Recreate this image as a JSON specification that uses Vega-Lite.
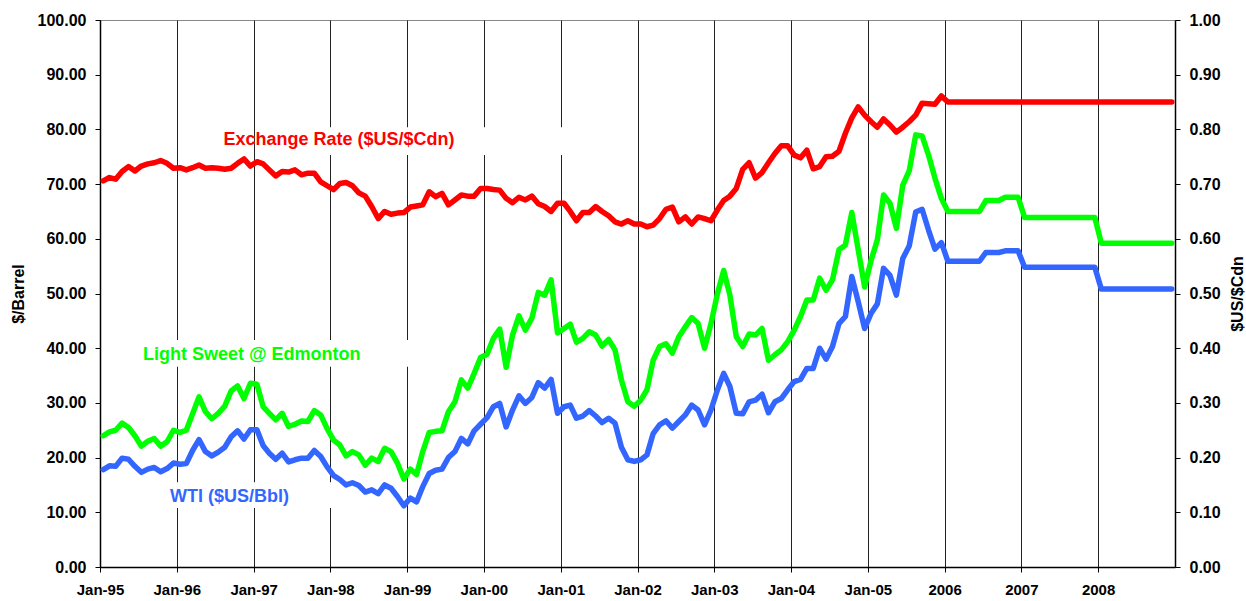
{
  "$schema": "https://vega.github.io/schema/vega-lite/v6.json",
  "width": 1075,
  "height": 547,
  "autosize": {"type": "none"},
  "padding": {"left": 100, "top": 20, "right": 71, "bottom": 34},
  "background": "white",
  "config": {
    "font": "Liberation Sans",
    "view": {"stroke": "#888888", "strokeWidth": 1},
    "axis": {"labelFont": "Liberation Sans", "titleFont": "Liberation Sans"}
  },
  "data": {
    "values": [
      {"m": "1995-01", "w": 17.8, "e": 24.0, "x": 0.706},
      {"m": "1995-02", "w": 18.5, "e": 24.7, "x": 0.712},
      {"m": "1995-03", "w": 18.4, "e": 25.0, "x": 0.709},
      {"m": "1995-04", "w": 19.9, "e": 26.3, "x": 0.723},
      {"m": "1995-05", "w": 19.7, "e": 25.5, "x": 0.732},
      {"m": "1995-06", "w": 18.4, "e": 24.0, "x": 0.724},
      {"m": "1995-07", "w": 17.3, "e": 22.1, "x": 0.733},
      {"m": "1995-08", "w": 17.9, "e": 23.0, "x": 0.737},
      {"m": "1995-09", "w": 18.2, "e": 23.5, "x": 0.739},
      {"m": "1995-10", "w": 17.4, "e": 22.1, "x": 0.743},
      {"m": "1995-11", "w": 18.0, "e": 22.9, "x": 0.738},
      {"m": "1995-12", "w": 19.0, "e": 25.0, "x": 0.729},
      {"m": "1996-01", "w": 18.8, "e": 24.6, "x": 0.730},
      {"m": "1996-02", "w": 18.9, "e": 25.0, "x": 0.726},
      {"m": "1996-03", "w": 21.3, "e": 28.0, "x": 0.730},
      {"m": "1996-04", "w": 23.3, "e": 31.1, "x": 0.735},
      {"m": "1996-05", "w": 21.1, "e": 28.4, "x": 0.729},
      {"m": "1996-06", "w": 20.3, "e": 27.1, "x": 0.730},
      {"m": "1996-07", "w": 21.0, "e": 28.1, "x": 0.729},
      {"m": "1996-08", "w": 21.9, "e": 29.4, "x": 0.727},
      {"m": "1996-09", "w": 23.8, "e": 32.2, "x": 0.729},
      {"m": "1996-10", "w": 24.9, "e": 33.1, "x": 0.738},
      {"m": "1996-11", "w": 23.4, "e": 30.8, "x": 0.746},
      {"m": "1996-12", "w": 25.1, "e": 33.6, "x": 0.733},
      {"m": "1997-01", "w": 25.1, "e": 33.4, "x": 0.741},
      {"m": "1997-02", "w": 22.2, "e": 29.3, "x": 0.737},
      {"m": "1997-03", "w": 20.8, "e": 28.1, "x": 0.726},
      {"m": "1997-04", "w": 19.7, "e": 26.9, "x": 0.715},
      {"m": "1997-05", "w": 20.8, "e": 28.1, "x": 0.723},
      {"m": "1997-06", "w": 19.2, "e": 25.7, "x": 0.722},
      {"m": "1997-07", "w": 19.6, "e": 26.1, "x": 0.726},
      {"m": "1997-08", "w": 19.9, "e": 26.7, "x": 0.717},
      {"m": "1997-09", "w": 19.9, "e": 26.6, "x": 0.720},
      {"m": "1997-10", "w": 21.3, "e": 28.6, "x": 0.720},
      {"m": "1997-11", "w": 20.2, "e": 27.8, "x": 0.704},
      {"m": "1997-12", "w": 18.3, "e": 25.3, "x": 0.697},
      {"m": "1998-01", "w": 16.7, "e": 23.2, "x": 0.690},
      {"m": "1998-02", "w": 16.0, "e": 22.3, "x": 0.701},
      {"m": "1998-03", "w": 15.0, "e": 20.3, "x": 0.703},
      {"m": "1998-04", "w": 15.4, "e": 21.1, "x": 0.697},
      {"m": "1998-05", "w": 14.9, "e": 20.5, "x": 0.684},
      {"m": "1998-06", "w": 13.7, "e": 18.6, "x": 0.678},
      {"m": "1998-07", "w": 14.1, "e": 19.9, "x": 0.659},
      {"m": "1998-08", "w": 13.4, "e": 19.3, "x": 0.637},
      {"m": "1998-09", "w": 15.0, "e": 21.7, "x": 0.650},
      {"m": "1998-10", "w": 14.4, "e": 21.1, "x": 0.645},
      {"m": "1998-11", "w": 12.9, "e": 19.0, "x": 0.647},
      {"m": "1998-12", "w": 11.2, "e": 16.1, "x": 0.648},
      {"m": "1999-01", "w": 12.6, "e": 17.9, "x": 0.658},
      {"m": "1999-02", "w": 11.9, "e": 16.9, "x": 0.660},
      {"m": "1999-03", "w": 14.7, "e": 21.1, "x": 0.662},
      {"m": "1999-04", "w": 17.1, "e": 24.6, "x": 0.686},
      {"m": "1999-05", "w": 17.7, "e": 24.8, "x": 0.677},
      {"m": "1999-06", "w": 17.9, "e": 24.9, "x": 0.683},
      {"m": "1999-07", "w": 20.0, "e": 28.4, "x": 0.662},
      {"m": "1999-08", "w": 21.1, "e": 30.2, "x": 0.671},
      {"m": "1999-09", "w": 23.5, "e": 34.2, "x": 0.680},
      {"m": "1999-10", "w": 22.5, "e": 32.7, "x": 0.678},
      {"m": "1999-11", "w": 24.9, "e": 35.4, "x": 0.678},
      {"m": "1999-12", "w": 26.1, "e": 38.3, "x": 0.692},
      {"m": "2000-01", "w": 27.3, "e": 38.9, "x": 0.692},
      {"m": "2000-02", "w": 29.3, "e": 41.8, "x": 0.690},
      {"m": "2000-03", "w": 29.9, "e": 43.5, "x": 0.689},
      {"m": "2000-04", "w": 25.6, "e": 36.5, "x": 0.674},
      {"m": "2000-05", "w": 28.7, "e": 42.4, "x": 0.666},
      {"m": "2000-06", "w": 31.3, "e": 45.9, "x": 0.676},
      {"m": "2000-07", "w": 29.9, "e": 43.3, "x": 0.671},
      {"m": "2000-08", "w": 31.0, "e": 45.5, "x": 0.678},
      {"m": "2000-09", "w": 33.7, "e": 50.2, "x": 0.664},
      {"m": "2000-10", "w": 32.7, "e": 49.7, "x": 0.659},
      {"m": "2000-11", "w": 34.3, "e": 52.5, "x": 0.650},
      {"m": "2000-12", "w": 28.1, "e": 42.8, "x": 0.665},
      {"m": "2001-01", "w": 29.3, "e": 43.6, "x": 0.665},
      {"m": "2001-02", "w": 29.6, "e": 44.4, "x": 0.650},
      {"m": "2001-03", "w": 27.2, "e": 41.1, "x": 0.633},
      {"m": "2001-04", "w": 27.6, "e": 41.8, "x": 0.648},
      {"m": "2001-05", "w": 28.6, "e": 43.0, "x": 0.648},
      {"m": "2001-06", "w": 27.6, "e": 42.4, "x": 0.659},
      {"m": "2001-07", "w": 26.4, "e": 40.4, "x": 0.650},
      {"m": "2001-08", "w": 27.2, "e": 41.6, "x": 0.642},
      {"m": "2001-09", "w": 26.3, "e": 39.7, "x": 0.631},
      {"m": "2001-10", "w": 21.9, "e": 34.2, "x": 0.627},
      {"m": "2001-11", "w": 19.6, "e": 30.2, "x": 0.633},
      {"m": "2001-12", "w": 19.3, "e": 29.4, "x": 0.627},
      {"m": "2002-01", "w": 19.6, "e": 30.5, "x": 0.627},
      {"m": "2002-02", "w": 20.5, "e": 32.4, "x": 0.622},
      {"m": "2002-03", "w": 24.4, "e": 37.8, "x": 0.625},
      {"m": "2002-04", "w": 26.0, "e": 40.3, "x": 0.637},
      {"m": "2002-05", "w": 26.7, "e": 40.8, "x": 0.654},
      {"m": "2002-06", "w": 25.4, "e": 39.1, "x": 0.658},
      {"m": "2002-07", "w": 26.6, "e": 42.1, "x": 0.631},
      {"m": "2002-08", "w": 27.8, "e": 43.9, "x": 0.640},
      {"m": "2002-09", "w": 29.6, "e": 45.6, "x": 0.627},
      {"m": "2002-10", "w": 28.7, "e": 44.5, "x": 0.640},
      {"m": "2002-11", "w": 26.0, "e": 40.0, "x": 0.637},
      {"m": "2002-12", "w": 28.7, "e": 44.5, "x": 0.633},
      {"m": "2003-01", "w": 32.4, "e": 50.0, "x": 0.653},
      {"m": "2003-02", "w": 35.4, "e": 54.2, "x": 0.670},
      {"m": "2003-03", "w": 33.0, "e": 49.7, "x": 0.678},
      {"m": "2003-04", "w": 28.1, "e": 42.1, "x": 0.692},
      {"m": "2003-05", "w": 28.0, "e": 40.3, "x": 0.727},
      {"m": "2003-06", "w": 30.2, "e": 42.6, "x": 0.739},
      {"m": "2003-07", "w": 30.5, "e": 42.4, "x": 0.711},
      {"m": "2003-08", "w": 31.6, "e": 43.6, "x": 0.721},
      {"m": "2003-09", "w": 28.2, "e": 37.8, "x": 0.739},
      {"m": "2003-10", "w": 30.2, "e": 38.8, "x": 0.756},
      {"m": "2003-11", "w": 30.8, "e": 39.7, "x": 0.770},
      {"m": "2003-12", "w": 32.4, "e": 41.2, "x": 0.770},
      {"m": "2004-01", "w": 33.9, "e": 43.3, "x": 0.753},
      {"m": "2004-02", "w": 34.3, "e": 45.8, "x": 0.748},
      {"m": "2004-03", "w": 36.3, "e": 48.8, "x": 0.762},
      {"m": "2004-04", "w": 36.3, "e": 48.8, "x": 0.728},
      {"m": "2004-05", "w": 40.0, "e": 52.8, "x": 0.732},
      {"m": "2004-06", "w": 38.0, "e": 50.6, "x": 0.750},
      {"m": "2004-07", "w": 40.3, "e": 52.5, "x": 0.751},
      {"m": "2004-08", "w": 44.5, "e": 58.0, "x": 0.760},
      {"m": "2004-09", "w": 45.8, "e": 58.9, "x": 0.793},
      {"m": "2004-10", "w": 53.1, "e": 64.8, "x": 0.821},
      {"m": "2004-11", "w": 48.5, "e": 58.0, "x": 0.841},
      {"m": "2004-12", "w": 43.6, "e": 51.2, "x": 0.826},
      {"m": "2005-01", "w": 46.4, "e": 56.1, "x": 0.814},
      {"m": "2005-02", "w": 48.1, "e": 59.8, "x": 0.804},
      {"m": "2005-03", "w": 54.6, "e": 68.0, "x": 0.819},
      {"m": "2005-04", "w": 53.3, "e": 66.5, "x": 0.808},
      {"m": "2005-05", "w": 49.7, "e": 61.9, "x": 0.795},
      {"m": "2005-06", "w": 56.4, "e": 69.8, "x": 0.804},
      {"m": "2005-07", "w": 58.7, "e": 72.4, "x": 0.814},
      {"m": "2005-08", "w": 64.9, "e": 79.0, "x": 0.826},
      {"m": "2005-09", "w": 65.4, "e": 78.8, "x": 0.848},
      {"m": "2005-10", "w": 61.6, "e": 75.3, "x": 0.847},
      {"m": "2005-11", "w": 58.1, "e": 71.1, "x": 0.846},
      {"m": "2005-12", "w": 59.3, "e": 67.4, "x": 0.861},
      {"m": "2006-01", "w": 55.9, "e": 65.0, "x": 0.850},
      {"m": "2006-02", "w": 55.9, "e": 65.0, "x": 0.850},
      {"m": "2006-03", "w": 55.9, "e": 65.0, "x": 0.850},
      {"m": "2006-04", "w": 55.9, "e": 65.0, "x": 0.850},
      {"m": "2006-05", "w": 55.9, "e": 65.0, "x": 0.850},
      {"m": "2006-06", "w": 55.9, "e": 65.0, "x": 0.850},
      {"m": "2006-07", "w": 57.5, "e": 67.0, "x": 0.850},
      {"m": "2006-08", "w": 57.5, "e": 67.0, "x": 0.850},
      {"m": "2006-09", "w": 57.5, "e": 67.0, "x": 0.850},
      {"m": "2006-10", "w": 57.8, "e": 67.6, "x": 0.850},
      {"m": "2006-11", "w": 57.8, "e": 67.6, "x": 0.850},
      {"m": "2006-12", "w": 57.8, "e": 67.6, "x": 0.850},
      {"m": "2007-01", "w": 54.8, "e": 63.9, "x": 0.850},
      {"m": "2007-02", "w": 54.8, "e": 63.9, "x": 0.850},
      {"m": "2007-03", "w": 54.8, "e": 63.9, "x": 0.850},
      {"m": "2007-04", "w": 54.8, "e": 63.9, "x": 0.850},
      {"m": "2007-05", "w": 54.8, "e": 63.9, "x": 0.850},
      {"m": "2007-06", "w": 54.8, "e": 63.9, "x": 0.850},
      {"m": "2007-07", "w": 54.8, "e": 63.9, "x": 0.850},
      {"m": "2007-08", "w": 54.8, "e": 63.9, "x": 0.850},
      {"m": "2007-09", "w": 54.8, "e": 63.9, "x": 0.850},
      {"m": "2007-10", "w": 54.8, "e": 63.9, "x": 0.850},
      {"m": "2007-11", "w": 54.8, "e": 63.9, "x": 0.850},
      {"m": "2007-12", "w": 54.8, "e": 63.9, "x": 0.850},
      {"m": "2008-01", "w": 50.8, "e": 59.2, "x": 0.850},
      {"m": "2008-02", "w": 50.8, "e": 59.2, "x": 0.850},
      {"m": "2008-03", "w": 50.8, "e": 59.2, "x": 0.850},
      {"m": "2008-04", "w": 50.8, "e": 59.2, "x": 0.850},
      {"m": "2008-05", "w": 50.8, "e": 59.2, "x": 0.850},
      {"m": "2008-06", "w": 50.8, "e": 59.2, "x": 0.850},
      {"m": "2008-07", "w": 50.8, "e": 59.2, "x": 0.850},
      {"m": "2008-08", "w": 50.8, "e": 59.2, "x": 0.850},
      {"m": "2008-09", "w": 50.8, "e": 59.2, "x": 0.850},
      {"m": "2008-10", "w": 50.8, "e": 59.2, "x": 0.850},
      {"m": "2008-11", "w": 50.8, "e": 59.2, "x": 0.850},
      {"m": "2008-12", "w": 50.8, "e": 59.2, "x": 0.850}
    ]
  },
  "layer": [
    {
      "layer": [
        {
          "data": {"values": [{}]},
          "mark": {"type": "rect", "fill": "white"},
          "encoding": {
            "x": {"datum": {"year": 1997, "month": 6, "date": 1, "utc": true}, "type": "temporal"},
            "x2": {"datum": {"year": 2001, "month": 6, "date": 1, "utc": true}},
            "y": {"datum": 80.4, "type": "quantitative"},
            "y2": {"datum": 75.3}
          }
        },
        {
          "data": {"values": [{}]},
          "mark": {"type": "rect", "fill": "white"},
          "encoding": {
            "x": {"datum": {"year": 1995, "month": 7, "date": 1, "utc": true}, "type": "temporal"},
            "x2": {"datum": {"year": 1999, "month": 6, "date": 1, "utc": true}},
            "y": {"datum": 41.5, "type": "quantitative"},
            "y2": {"datum": 36.6}
          }
        },
        {
          "data": {"values": [{}]},
          "mark": {"type": "rect", "fill": "white"},
          "encoding": {
            "x": {"datum": {"year": 1995, "month": 9, "date": 1, "utc": true}, "type": "temporal"},
            "x2": {"datum": {"year": 1998, "month": 3, "date": 1, "utc": true}},
            "y": {"datum": 15.5, "type": "quantitative"},
            "y2": {"datum": 10.8}
          }
        },
        {
          "transform": [{"fold": ["e", "w"], "as": ["k", "v"]}],
          "mark": {"type": "line", "strokeWidth": 5.5, "strokeJoin": "round", "strokeCap": "round"},
          "encoding": {
            "x": {
              "field": "m", "timeUnit": "utcyearmonth", "type": "temporal", "bandPosition": 0.5,
              "scale": {"type": "utc", "domain": [{"year": 1995, "month": 1, "date": 1, "utc": true}, {"year": 2009, "month": 1, "date": 1, "utc": true}]},
              "axis": {
                "title": null,
                "values": [
                  {"year": 1995, "month": 1, "date": 1, "utc": true},
                  {"year": 1996, "month": 1, "date": 1, "utc": true},
                  {"year": 1997, "month": 1, "date": 1, "utc": true},
                  {"year": 1998, "month": 1, "date": 1, "utc": true},
                  {"year": 1999, "month": 1, "date": 1, "utc": true},
                  {"year": 2000, "month": 1, "date": 1, "utc": true},
                  {"year": 2001, "month": 1, "date": 1, "utc": true},
                  {"year": 2002, "month": 1, "date": 1, "utc": true},
                  {"year": 2003, "month": 1, "date": 1, "utc": true},
                  {"year": 2004, "month": 1, "date": 1, "utc": true},
                  {"year": 2005, "month": 1, "date": 1, "utc": true},
                  {"year": 2006, "month": 1, "date": 1, "utc": true},
                  {"year": 2007, "month": 1, "date": 1, "utc": true},
                  {"year": 2008, "month": 1, "date": 1, "utc": true}
                ],
                "labelExpr": "utcyear(datum.value) >= 2006 ? utcFormat(datum.value, '%Y') : utcFormat(datum.value, '%b-%y')",
                "grid": true, "gridColor": "#222222", "gridWidth": 1,
                "domainColor": "#000000", "domainWidth": 1.5,
                "tickColor": "#000000", "tickSize": 5,
                "labelPadding": 10, "labelFontSize": 15, "labelFontWeight": "bold", "labelColor": "#000000",
                "labelFlush": false, "labelOverlap": false
              }
            },
            "y": {
              "field": "v", "type": "quantitative",
              "scale": {"domain": [0, 100]},
              "axis": {
                "orient": "left", "title": "$/Barrel",
                "values": [0, 10, 20, 30, 40, 50, 60, 70, 80, 90, 100],
                "format": ".2f", "grid": false,
                "domainColor": "#000000", "domainWidth": 1.5,
                "tickColor": "#000000", "tickSize": 5,
                "labelPadding": 9, "labelFontSize": 16, "labelFontWeight": "bold", "labelColor": "#000000",
                "titleFontSize": 16, "titleFontWeight": "bold", "titleColor": "#000000", "titlePadding": 11
              }
            },
            "color": {
              "field": "k", "type": "nominal",
              "scale": {"domain": ["e", "w"], "range": ["#00ff00", "#3366ff"]},
              "legend": null
            }
          }
        },
        {
          "data": {"values": [{}]},
          "mark": {"type": "text", "text": "Exchange Rate ($US/$Cdn)", "color": "#ff0000", "fontSize": 18, "fontWeight": "bold", "align": "center", "baseline": "middle"},
          "encoding": {
            "x": {"datum": {"year": 1998, "month": 2, "date": 11, "utc": true}, "type": "temporal"},
            "y": {"datum": 78.1, "type": "quantitative"}
          }
        },
        {
          "data": {"values": [{}]},
          "mark": {"type": "text", "text": "Light Sweet @ Edmonton", "color": "#00ff00", "fontSize": 18, "fontWeight": "bold", "align": "center", "baseline": "middle"},
          "encoding": {
            "x": {"datum": {"year": 1996, "month": 12, "date": 23, "utc": true}, "type": "temporal"},
            "y": {"datum": 38.8, "type": "quantitative"}
          }
        },
        {
          "data": {"values": [{}]},
          "mark": {"type": "text", "text": "WTI ($US/Bbl)", "color": "#3366ff", "fontSize": 18, "fontWeight": "bold", "align": "center", "baseline": "middle"},
          "encoding": {
            "x": {"datum": {"year": 1996, "month": 9, "date": 8, "utc": true}, "type": "temporal"},
            "y": {"datum": 12.8, "type": "quantitative"}
          }
        }
      ]
    },
    {
      "mark": {"type": "line", "color": "#ff0000", "strokeWidth": 5.5, "strokeJoin": "round", "strokeCap": "round"},
      "encoding": {
        "x": {"field": "m", "timeUnit": "utcyearmonth", "type": "temporal", "bandPosition": 0.5},
        "y": {
          "field": "x", "type": "quantitative",
          "scale": {"domain": [0, 1]},
          "axis": {
            "orient": "right", "title": "$US/$Cdn", "titleAngle": 270,
            "values": [0, 0.1, 0.2, 0.3, 0.4, 0.5, 0.6, 0.7, 0.8, 0.9, 1],
            "format": ".2f", "grid": false,
            "domainColor": "#000000", "domainWidth": 1.5,
            "tickColor": "#000000", "tickSize": 5,
            "labelPadding": 9, "labelFontSize": 16, "labelFontWeight": "bold", "labelColor": "#000000",
            "titleFontSize": 16, "titleFontWeight": "bold", "titleColor": "#000000", "titlePadding": 25
          }
        }
      }
    }
  ],
  "resolve": {"scale": {"y": "independent"}}
}
